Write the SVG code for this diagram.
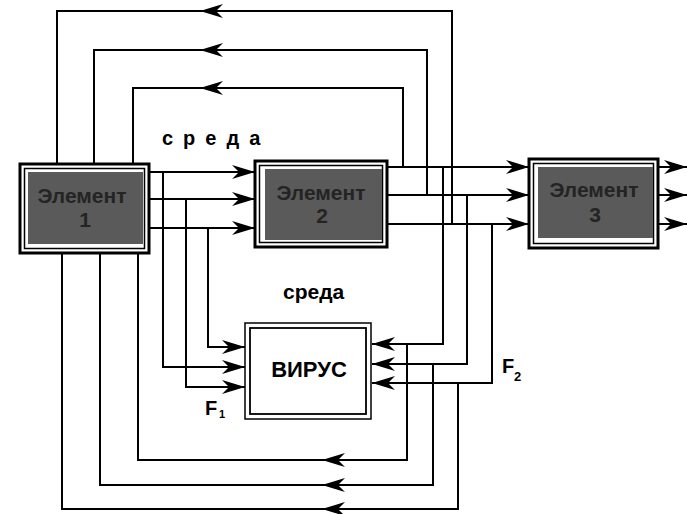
<svg xmlns="http://www.w3.org/2000/svg" width="687" height="514" viewBox="0 0 687 514">
<style>
.ln{fill:none;stroke:#000;stroke-width:2}
.ar{fill:none;stroke:#000;stroke-width:2;marker-end:url(#ah)}
.outer{fill:#fff;stroke:#000;stroke-width:3}
.inner{fill:none;stroke:#000;stroke-width:1.5}
.dark{fill:#5a5a5a}
.et{font-family:"Liberation Sans",Arial,sans-serif;font-weight:bold;font-size:21px;fill:#242424;text-anchor:middle}
.lbl{font-family:"Liberation Sans",Arial,sans-serif;font-weight:bold;fill:#000}
</style>
<defs>
<marker id="ah" markerUnits="userSpaceOnUse" markerWidth="26" markerHeight="16" refX="23" refY="8" orient="auto">
<path d="M0,1 L23,8 L0,15 L7,8 Z" fill="#000"/>
</marker>
</defs>

<g id="connectors">
<!-- Element1 -> Element2 -->
<path class="ar" d="M149,172 H255"/>
<path class="ar" d="M149,199 H255"/>
<path class="ar" d="M149,228 H255"/>
<!-- Element2 -> Element3 -->
<path class="ar" d="M387,167 H529"/>
<path class="ar" d="M387,195 H529"/>
<path class="ar" d="M387,224 H529"/>
<!-- Element3 outputs -->
<path class="ar" d="M658,167 H687"/>
<path class="ar" d="M658,195 H687"/>
<path class="ar" d="M658,224 H687"/>
<!-- top feedback -->
<path class="ar" d="M452,224 V11 H200"/>
<path class="ln" d="M200,11 H57 V164"/>
<path class="ar" d="M427,195 V50 H200"/>
<path class="ln" d="M200,50 H94 V164"/>
<path class="ar" d="M403,167 V88 H200"/>
<path class="ln" d="M200,88 H133 V164"/>
<!-- Element1 -> Virus (F1) -->
<path class="ar" d="M163,172 V367 H245"/>
<path class="ar" d="M186,199 V387 H245"/>
<path class="ar" d="M208,228 V347 H245"/>
<!-- Element2 -> Virus (F2) -->
<path class="ar" d="M443,167 V344 H372"/>
<path class="ar" d="M467,195 V364 H372"/>
<path class="ar" d="M492,224 V383 H372"/>
<!-- bottom feedback -->
<path class="ar" d="M407,344 V460 H322"/>
<path class="ln" d="M322,460 H138 V253"/>
<path class="ar" d="M433,364 V485 H322"/>
<path class="ln" d="M322,485 H100 V253"/>
<path class="ar" d="M458,383 V509 H322"/>
<path class="ln" d="M322,509 H62 V253"/>
</g>

<g id="element1">
<rect class="outer" x="20" y="164" width="129" height="89"/>
<rect class="inner" x="24.5" y="168.5" width="120" height="80"/>
<rect class="dark" x="28" y="172" width="115" height="72"/>
<text class="et" x="82" y="203">Элемент</text>
<text class="et" x="85" y="227">1</text>
</g>

<g id="element2">
<rect class="outer" x="255" y="161" width="132" height="86"/>
<rect class="inner" x="259.5" y="165.5" width="123" height="77"/>
<rect class="dark" x="265" y="169" width="117" height="71"/>
<text class="et" x="321" y="200">Элемент</text>
<text class="et" x="322" y="223">2</text>
</g>

<g id="element3">
<rect class="outer" x="529" y="159" width="129" height="89"/>
<rect class="inner" x="533.5" y="163.5" width="120" height="80"/>
<rect class="dark" x="538" y="167" width="115" height="71"/>
<text class="et" x="594" y="197">Элемент</text>
<text class="et" x="595" y="222">3</text>
</g>

<g id="virus">
<rect x="245" y="323" width="126" height="96" fill="#fff" stroke="#000" stroke-width="1.5"/>
<rect x="250" y="328" width="116" height="86" fill="none" stroke="#000" stroke-width="1.8"/>
<text class="lbl" x="309" y="377" font-size="22" text-anchor="middle">ВИРУС</text>
</g>

<g id="labels">
<text class="lbl" x="162" y="145" font-size="20" letter-spacing="10">среда</text>
<text class="lbl" x="283" y="299" font-size="21">среда</text>
<text class="lbl" x="205" y="415" font-size="20">F</text>
<text class="lbl" x="219" y="418" font-size="11">1</text>
<text class="lbl" x="502" y="373" font-size="20">F</text>
<text class="lbl" x="514" y="381" font-size="13">2</text>
</g>
</svg>
